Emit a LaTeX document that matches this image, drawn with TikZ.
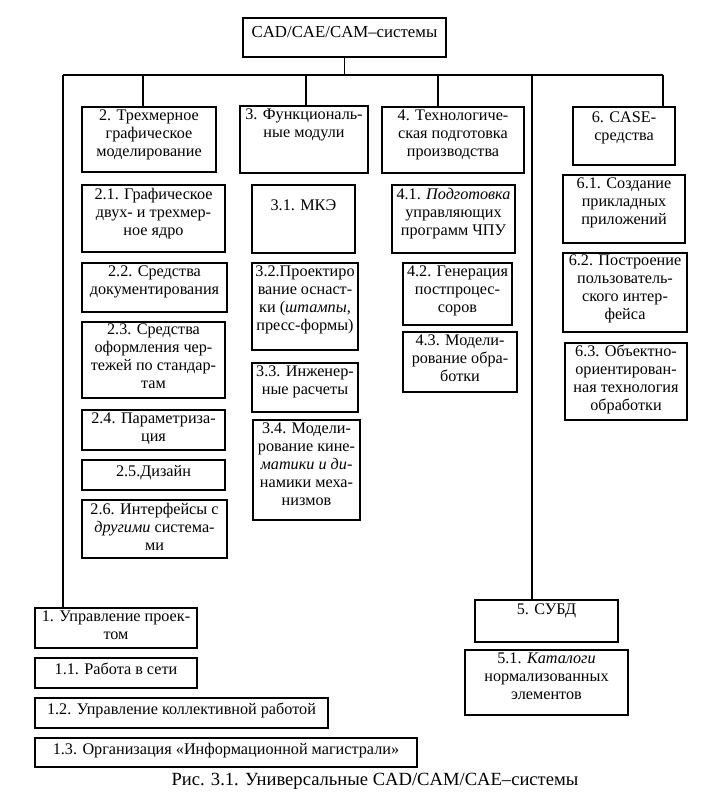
\documentclass[tikz,border=0pt]{standalone}
\usepackage{fontspec}
\setmainfont{Liberation Serif}
\tikzset{
  boxsty/.style={draw=black, line width=1.1pt, inner sep=0pt, outer sep=0pt, fill=none},
  txt/.style={align=center, inner sep=0pt, font=\fontsize{16.2}{18}\selectfont},
  conn/.style={draw=black, line width=1.1pt},
  capt/.style={inner sep=0pt, font=\fontsize{18.6}{20}\selectfont}
}
% \bx[pad]{name}{x1}{y1}{x2}{y2}{text}
\newcommand{\bx}[7][3]{%
  \node[boxsty, minimum width={#5-#3}, minimum height={#6-#4}] (#2) at ({(#3+#5)/2},{(#4+#6)/2}) {};
  \node[txt, anchor=north] (#2t) at ([yshift=-#1pt]#2.north) {#7};
}
\begin{document}
\begin{tikzpicture}[x=1pt, y=-1pt]
\useasboundingbox (0,0) rectangle (715,812);
\fill[white] (0,0) rectangle (715,812);

\bx[8]{T}{243}{18}{446}{57}{\fontsize{16.8}{18}\selectfont CAD/CAE/CAM–системы}

\bx{b2}{82}{107}{216}{172}{2. Трехмерное\\графическое\\моделирование}
\bx{b21}{82}{185}{225}{252}{2.1. Графическое\\двух- и трехмер-\\ное ядро}
\bx{b22}{82}{263}{227}{312}{2.2. Средства\\документирования}
\bx[2]{b23}{82}{322}{225}{398}{2.3. Средства\\оформления чер-\\тежей по стандар-\\там}
\bx{b24}{82}{410}{225}{450}{2.4. Параметриза-\\ция}
\bx[5]{b25}{82}{460}{225}{490}{2.5.Дизайн}
\bx{b26}{82}{500}{227}{558}{2.6. Интерфейсы с\\\textit{другими} система-\\ми}

\bx{b3}{240}{106}{368}{173}{3. Функциональ-\\ные модули}
\bx[15]{b31}{252}{185}{355}{253}{3.1. МКЭ}
\bx{b32}{252}{263}{358}{350}{3.2.Проектиро\\вание оснаст-\\ки (\textit{штампы},\\пресс-формы)}
\bx{b33}{252}{363}{358}{412}{3.3. Инженер-\\ные расчеты}
\bx{b34}{253}{420}{360}{520}{3.4. Модели-\\рование кине-\\\textit{матики и ди-}\\намики меха-\\низмов}

\bx{b4}{382}{107}{524}{173}{4. Технологиче-\\ская подготовка\\производства}
\bx{b41}{392}{185}{515}{253}{4.1. \textit{Подготовка}\\управляющих\\программ ЧПУ}
\bx{b42}{403}{263}{512}{325}{4.2. Генерация\\постпроцес-\\соров}
\bx{b43}{403}{332}{517}{392}{4.3. Модели-\\рование обра-\\ботки}

\bx[5]{b6}{573}{107}{675}{165}{6. CASE-\\средства}
\bx{b61}{563}{175}{685}{243}{6.1. Создание\\прикладных\\приложений}
\bx[2]{b62}{563}{253}{687}{332}{6.2. Построение\\пользователь-\\ского интер-\\фейса}
\bx[2]{b63}{565}{343}{687}{420}{6.3. Объектно-\\ориентирован-\\ная технология\\обработки}

\bx[4]{b5}{475}{600}{618}{642}{5. СУБД}
\bx{b51}{465}{650}{628}{715}{5.1. \textit{Каталоги}\\нормализованных\\элементов}

\bx{b1}{35}{608}{197}{648}{1. Управление проек-\\том}
\bx[5]{b11}{35}{658}{197}{688}{1.1. Работа в сети}
\bx[5]{b12}{35}{698}{328}{728}{1.2. Управление коллективной работой}
\bx[5]{b13}{35}{738}{417}{767}{1.3. Организация «Информационной магистрали»}

\node[capt] (cap) at (375,781) {Рис. 3.1. Универсальные CAD/CAM/CAE–системы};

% bus
\coordinate (busL) at (63,75);
\coordinate (busR) at (663,75);
\coordinate (d2) at (143,75);
\coordinate (d3) at (306,75);
\coordinate (d4) at (438,75);
\coordinate (d5) at (532,75);
\draw[conn] (T.south) -- (T.south |- busL);
\draw[conn] (busL) -- (busR);
\draw[conn] (d2) -- (d2 |- b2.north);
\draw[conn] (d3) -- (d3 |- b3.north);
\draw[conn] (d4) -- (d4 |- b4.north);
\draw[conn] (busR) -- (busR |- b6.north);
\draw[conn] (busL) -- (busL |- b1.north);
\draw[conn] (d5) -- (d5 |- b5.north);
\end{tikzpicture}
\end{document}
